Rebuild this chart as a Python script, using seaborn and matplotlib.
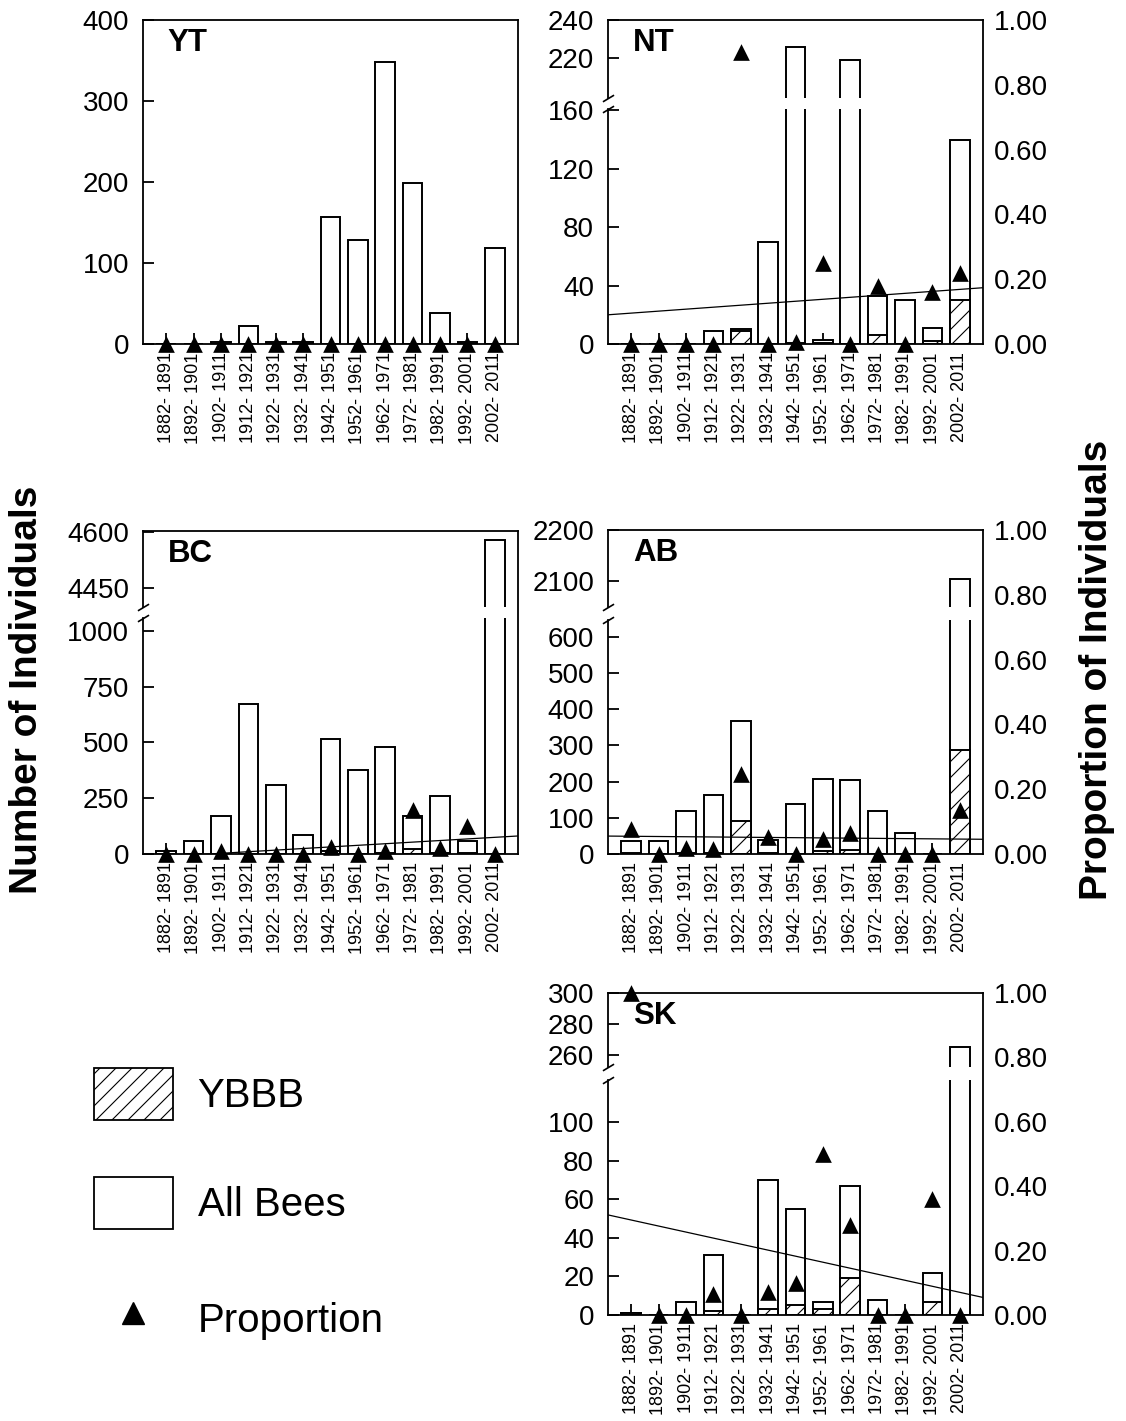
import numpy as np
import pandas as pd
import matplotlib
matplotlib.use("Agg")
import matplotlib.pyplot as plt
from matplotlib.patches import Patch
from matplotlib.lines import Line2D
import seaborn as sns

# ---------------- data ----------------
periods = ["1882- 1891", "1892- 1901", "1902- 1911", "1912- 1921", "1922- 1931",
           "1932- 1941", "1942- 1951", "1952- 1961", "1962- 1971", "1972- 1981",
           "1982- 1991", "1992- 2001", "2002- 2011"]

yt_all = [0, 0, 2, 22, 2, 2, 157, 128, 348, 199, 38, 2, 118]
yt_ybbb = [0, 0, 0, 0, 0, 0, 0, 0, 0, 0, 0, 0, 0]
yt_prop = [0, 0, 0, 0, 0, 0, 0, 0, 0, 0, 0, 0, 0]

nt_all = [0, 0, 0, 9, 10, 70, 226, 3, 219, 33, 30, 11, 140]
nt_ybbb = [0, 0, 0, 0, 9, 0, 1, 1, 0, 6, 0, 2, 30]
nt_prop = [0, 0, 0, 0, 0.90, 0, 0.005, 0.25, 0, 0.18, 0, 0.16, 0.22]

bc_all = [15, 60, 168, 670, 310, 87, 517, 375, 480, 170, 258, 60, 4578]
bc_ybbb = [0, 0, 2, 0, 0, 0, 12, 0, 5, 22, 5, 5, 0]
bc_prop = [0, 0, 0.01, 0, 0, 0, 0.023, 0, 0.01, 0.136, 0.018, 0.088, 0]

ab_all = [37, 35, 120, 164, 367, 39, 137, 208, 203, 120, 58, 0, 2105]
ab_ybbb = [3, 0, 2, 2, 92, 2, 0, 8, 12, 0, 0, 0, 286]
ab_prop = [0.076, 0, 0.02, 0.015, 0.246, 0.051, 0, 0.045, 0.066, 0, 0, 0, 0.136]

sk_all = [1, 0, 7, 31, 0, 70, 55, 7, 67, 8, 0, 22, 265]
sk_ybbb = [1, 0, 0, 2, 0, 3, 5, 3, 19, 0, 0, 7, 0]
sk_prop = [1.0, 0, 0, 0.065, 0, 0.07, 0.10, 0.50, 0.28, 0, 0, 0.36, 0]

legend_labels = ["YBBB", "All Bees", "Proportion"]
prop_ticks = [0.0, 0.2, 0.4, 0.6, 0.8, 1.0]

# ---------------- style ----------------
DPI = 96  # hatch '//' spacing = dpi/6 px (~16 px, as in the reference bars)


def pt(v):
    """size tuned in points at 100 dpi -> points at DPI"""
    return v * 100.0 / DPI


sns.set_style("ticks")
plt.rcParams["font.family"] = ["Liberation Sans", "DejaVu Sans"]
for key in ("text.color", "axes.labelcolor", "xtick.color", "ytick.color", "axes.edgecolor"):
    plt.rcParams[key] = "black"
plt.rcParams["hatch.linewidth"] = pt(0.8)
plt.rcParams["hatch.color"] = "black"
plt.rcParams["axes.linewidth"] = pt(1.3)

W, H = 1126, 1421
fig = plt.figure(figsize=(W / DPI, H / DPI), dpi=DPI)


def rect(x0, y0, x1, y1):
    return [x0 / W, 1 - y1 / H, (x1 - x0) / W, (y1 - y0) / H]


XLIM = (-0.85, 12.85)
BAR_W = 0.72
LW = pt(1.4)
HATCH = "//"
idx = np.arange(len(periods))


def draw_bars(ax, allv, ybbb):
    df = pd.DataFrame({"period": periods, "all": allv, "ybbb": ybbb})
    sns.barplot(data=df, x="period", y="all", ax=ax, color="white", edgecolor="black",
                linewidth=LW, width=BAR_W, saturation=1, errorbar=None, zorder=2)
    sns.barplot(data=df, x="period", y="ybbb", ax=ax, color="white", edgecolor="black",
                linewidth=LW, width=BAR_W, saturation=1, errorbar=None, hatch=HATCH,
                zorder=2)
    ax.set_xlim(*XLIM)
    ax.set_xlabel("")
    ax.set_ylabel("")
    ax.set_facecolor("none")


def style_left(ax, lim, ticks):
    ax.set_ylim(*lim)
    ax.set_yticks(ticks)
    ax.tick_params(axis="y", direction="in", length=pt(8), width=pt(1.3), labelsize=pt(20),
                   pad=pt(10), right=False)
    ax.spines["top"].set_visible(False)
    ax.spines["right"].set_visible(False)


def panel(name, frame, allv, ybbb, prop, low, low_ticks, high=None, high_ticks=None,
          split=None, right_labels=False, trend=True):
    x0, y0, x1, y1 = frame
    if high is None:
        ax_low = fig.add_axes(rect(x0, y0, x1, y1))
        ax_high = None
    else:
        ax_high = fig.add_axes(rect(x0, y0, x1, split[0]))
        ax_low = fig.add_axes(rect(x0, split[1], x1, y1))

    draw_bars(ax_low, allv, ybbb)
    style_left(ax_low, low, low_ticks)
    ax_low.tick_params(axis="x", direction="in", length=pt(8), width=pt(1.3),
                       labelsize=pt(13), labelrotation=90, pad=pt(6))

    if ax_high is not None:
        draw_bars(ax_high, allv, ybbb)
        style_left(ax_high, high, high_ticks)
        ax_high.spines["bottom"].set_visible(False)
        ax_high.tick_params(axis="x", bottom=False, labelbottom=False)
        kw = dict(marker=[(-1, -0.6), (1, 0.6)], markersize=pt(8), linestyle="none",
                  color="k", mec="k", mew=pt(1.2), clip_on=False)
        ax_low.plot([0], [1], transform=ax_low.transAxes, **kw)
        ax_high.plot([0], [0], transform=ax_high.transAxes, **kw)

    ax_f = fig.add_axes(rect(x0, y0, x1, y1))
    ax_f.set_facecolor("none")
    ax_f.set_xlim(*XLIM)
    ax_f.set_ylim(0, 1)
    for s in ("left", "bottom"):
        ax_f.spines[s].set_visible(False)
    ax_f.set_xticks([])
    if trend:
        sns.regplot(x=idx, y=np.array(prop, float), ax=ax_f, scatter=False, ci=None,
                    truncate=False, color="black",
                    line_kws=dict(linewidth=pt(0.9), zorder=4))
    sns.scatterplot(x=idx, y=prop, ax=ax_f, marker="^", s=pt(12) ** 2, color="black",
                    edgecolor="black", linewidth=0, clip_on=False, zorder=5, legend=False)
    ax_f.set_xlim(*XLIM)
    ax_f.set_ylim(0, 1)
    ax_f.set_xlabel("")
    ax_f.set_ylabel("")
    if right_labels:
        ax_f.yaxis.tick_right()
        ax_f.set_yticks(prop_ticks)
        ax_f.set_yticklabels([f"{t:.2f}" for t in prop_ticks])
        ax_f.tick_params(axis="y", length=0, labelsize=pt(20), pad=pt(8), left=False)
    else:
        ax_f.set_yticks([])
    ax_f.text(0.066, 0.928, name, transform=ax_f.transAxes, fontsize=pt(22.5),
              fontweight="bold", ha="left", va="center")


panel("YT", (143, 20, 518, 344), yt_all, yt_ybbb, yt_prop, (0, 400),
      [0, 100, 200, 300, 400], trend=False)
panel("NT", (608, 20, 983, 344), nt_all, nt_ybbb, nt_prop, (0, 161),
      [0, 40, 80, 120, 160], high=(199, 240), high_ticks=[220, 240], split=(98, 109),
      right_labels=True)
panel("BC", (143, 531, 518, 854), bc_all, bc_ybbb, bc_prop, (0, 1057),
      [0, 250, 500, 750, 1000], high=(4400, 4603), high_ticks=[4450, 4600],
      split=(607, 618))
panel("AB", (608, 530, 983, 854), ab_all, ab_ybbb, ab_prop, (0, 646),
      [0, 100, 200, 300, 400, 500, 600], high=(2050, 2200), high_ticks=[2100, 2200],
      split=(607, 620), right_labels=True)
panel("SK", (608, 993, 983, 1315), sk_all, sk_ybbb, sk_prop, (0, 122),
      [0, 20, 40, 60, 80, 100], high=(252, 300), high_ticks=[260, 280, 300],
      split=(1067, 1080), right_labels=True)

# axis titles
fig.text(27 / W, 1 - 690 / H, "Number of Individuals", rotation=90, fontsize=pt(28),
         fontweight="bold", ha="center", va="center")
fig.text(1097 / W, 1 - 670 / H, "Proportion of Individuals", rotation=90, fontsize=pt(28),
         fontweight="bold", ha="center", va="center")

# legend: one entry per row so rows sit where the reference has them
handles = [Patch(facecolor="white", edgecolor="black", hatch=HATCH, linewidth=pt(1.3)),
           Patch(facecolor="white", edgecolor="black", linewidth=pt(1.3)),
           Line2D([], [], marker="^", color="black", linestyle="none", markersize=pt(16.5))]
row_centres = [1094, 1203, 1319]
for h, lab, yc in zip(handles, legend_labels, row_centres):
    fig.legend([h], [lab], loc="center left", bbox_to_anchor=(94 / W, 1 - yc / H),
               frameon=False, fontsize=pt(29), handlelength=1.95, handleheight=1.62,
               handletextpad=0.62, borderpad=0, borderaxespad=0)

fig.savefig("out.png", dpi=DPI)
